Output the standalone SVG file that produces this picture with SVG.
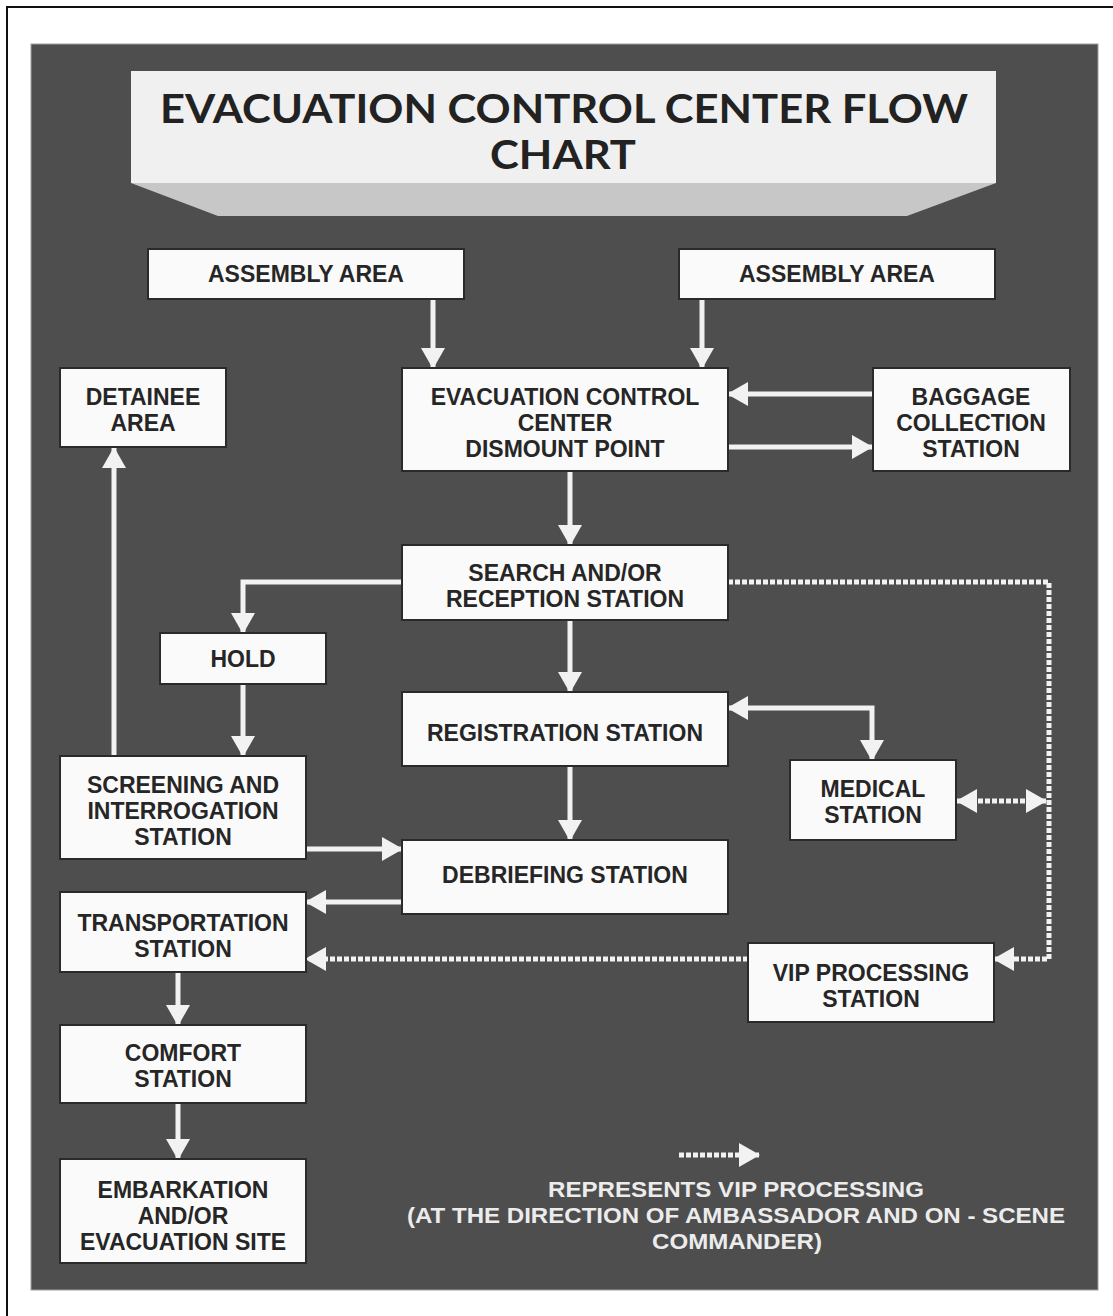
<svg xmlns="http://www.w3.org/2000/svg" width="1113" height="1316" viewBox="0 0 1113 1316">
  <style>
    .node rect { fill: #fafafa; stroke: #2a2a2a; stroke-width: 2; }
    .node text { font-family: "Liberation Sans", Arial, sans-serif; font-weight: bold; font-size: 23px; fill: #262626; text-anchor: middle; }
    .flow { fill: none; stroke: #f2f2f2; stroke-width: 5; }
    .vip { fill: none; stroke: #f2f2f2; stroke-width: 5; stroke-dasharray: 5 2; }
    .legend { font-family: "Liberation Sans", Arial, sans-serif; font-weight: bold; font-size: 22px; fill: #ececec; text-anchor: middle; }
  </style>
  <defs>
    <marker id="head" viewBox="0 0 21 24" refX="20" refY="12" markerWidth="21" markerHeight="24" markerUnits="userSpaceOnUse" orient="auto-start-reverse">
      <path d="M0,0 L21,12 L0,24 Z" fill="#f2f2f2"/>
    </marker>
  </defs>

  <!-- page frame and dark panel -->
  <rect width="1113" height="1316" fill="#ffffff"/>
  <path d="M7,1316 V7 H1113" fill="none" stroke="#111" stroke-width="2"/>
  <rect x="31" y="44" width="1067" height="1246" fill="#4e4e4e" stroke="#a0a0a0" stroke-width="1"/>

  <!-- title banner -->
  <g id="title">
    <polygon points="131,183 996,183 907,216 218,216" fill="#c7c7c7"/>
    <rect x="131" y="71" width="865" height="112" fill="#f0f0f0"/>
    <text x="564" y="123" font-family="Lato, 'Liberation Sans', sans-serif" font-weight="bold" font-size="41" fill="#222" text-anchor="middle" textLength="808" lengthAdjust="spacingAndGlyphs">EVACUATION CONTROL CENTER FLOW</text>
    <text x="563" y="169" font-family="Lato, 'Liberation Sans', sans-serif" font-weight="bold" font-size="41" fill="#222" text-anchor="middle" textLength="146" lengthAdjust="spacingAndGlyphs">CHART</text>
  </g>

  <!-- connectors -->
  <g id="connectors">
    <path class="flow" d="M433,300 V368" marker-end="url(#head)"/>
    <path class="flow" d="M702,300 V368" marker-end="url(#head)"/>
    <path class="flow" d="M872,394 H728" marker-end="url(#head)"/>
    <path class="flow" d="M728,447 H872" marker-end="url(#head)"/>
    <path class="flow" d="M570,472 V545" marker-end="url(#head)"/>
    <path class="flow" d="M402,582 H243 V633" marker-end="url(#head)"/>
    <path class="flow" d="M570,620 V692" marker-end="url(#head)"/>
    <path class="flow" d="M728,708 H872 V760" marker-start="url(#head)" marker-end="url(#head)"/>
    <path class="flow" d="M243,684 V756" marker-end="url(#head)"/>
    <path class="flow" d="M114,756 V448" marker-end="url(#head)"/>
    <path class="flow" d="M570,766 V840" marker-end="url(#head)"/>
    <path class="flow" d="M306,849 H402" marker-end="url(#head)"/>
    <path class="flow" d="M402,902 H306" marker-end="url(#head)"/>
    <path class="flow" d="M178,973 V1025" marker-end="url(#head)"/>
    <path class="flow" d="M178,1103 V1159" marker-end="url(#head)"/>
    <!-- VIP routing -->
    <path class="vip" d="M728,582 H1049 V959 H994" marker-end="url(#head)"/>
    <path class="vip" d="M957,801 H1046" marker-start="url(#head)" marker-end="url(#head)"/>
    <path class="vip" d="M748,959 H306" marker-end="url(#head)"/>
  </g>

  <!-- stations -->
  <g id="assembly-left" class="node">
    <rect x="148" y="249" width="316" height="50"/>
    <text x="306" y="282">ASSEMBLY AREA</text>
  </g>
  <g id="assembly-right" class="node">
    <rect x="679" y="249" width="316" height="50"/>
    <text x="837" y="282">ASSEMBLY AREA</text>
  </g>
  <g id="ecc-dismount" class="node">
    <rect x="402" y="368" width="326" height="103"/>
    <text x="565" y="405">EVACUATION CONTROL</text>
    <text x="565" y="431">CENTER</text>
    <text x="565" y="457">DISMOUNT POINT</text>
  </g>
  <g id="detainee" class="node">
    <rect x="60" y="368" width="166" height="79"/>
    <text x="143" y="405">DETAINEE</text>
    <text x="143" y="431">AREA</text>
  </g>
  <g id="baggage" class="node">
    <rect x="873" y="368" width="197" height="103"/>
    <text x="971" y="405">BAGGAGE</text>
    <text x="971" y="431">COLLECTION</text>
    <text x="971" y="457">STATION</text>
  </g>
  <g id="search" class="node">
    <rect x="402" y="545" width="326" height="75"/>
    <text x="565" y="581">SEARCH AND/OR</text>
    <text x="565" y="607">RECEPTION STATION</text>
  </g>
  <g id="hold" class="node">
    <rect x="160" y="633" width="166" height="51"/>
    <text x="243" y="667">HOLD</text>
  </g>
  <g id="registration" class="node">
    <rect x="402" y="692" width="326" height="74"/>
    <text x="565" y="741">REGISTRATION STATION</text>
  </g>
  <g id="medical" class="node">
    <rect x="790" y="760" width="166" height="80"/>
    <text x="873" y="797">MEDICAL</text>
    <text x="873" y="823">STATION</text>
  </g>
  <g id="screening" class="node">
    <rect x="60" y="756" width="246" height="103"/>
    <text x="183" y="793">SCREENING AND</text>
    <text x="183" y="819">INTERROGATION</text>
    <text x="183" y="845">STATION</text>
  </g>
  <g id="debriefing" class="node">
    <rect x="402" y="840" width="326" height="74"/>
    <text x="565" y="883">DEBRIEFING STATION</text>
  </g>
  <g id="transportation" class="node">
    <rect x="60" y="892" width="246" height="80"/>
    <text x="183" y="931">TRANSPORTATION</text>
    <text x="183" y="957">STATION</text>
  </g>
  <g id="vip-processing" class="node">
    <rect x="748" y="943" width="246" height="79"/>
    <text x="871" y="981">VIP PROCESSING</text>
    <text x="871" y="1007">STATION</text>
  </g>
  <g id="comfort" class="node">
    <rect x="60" y="1025" width="246" height="78"/>
    <text x="183" y="1061">COMFORT</text>
    <text x="183" y="1087">STATION</text>
  </g>
  <g id="embarkation" class="node">
    <rect x="60" y="1159" width="246" height="104"/>
    <text x="183" y="1198">EMBARKATION</text>
    <text x="183" y="1224">AND/OR</text>
    <text x="183" y="1250">EVACUATION SITE</text>
  </g>

  <!-- legend -->
  <g id="legend">
    <path class="vip" d="M679,1155 H759" marker-end="url(#head)"/>
    <text class="legend" x="736" y="1197" textLength="376" lengthAdjust="spacingAndGlyphs">REPRESENTS VIP PROCESSING</text>
    <text class="legend" x="736" y="1223" textLength="658" lengthAdjust="spacingAndGlyphs">(AT THE DIRECTION OF AMBASSADOR AND ON - SCENE</text>
    <text class="legend" x="737" y="1249" textLength="170" lengthAdjust="spacingAndGlyphs">COMMANDER)</text>
  </g>
</svg>
